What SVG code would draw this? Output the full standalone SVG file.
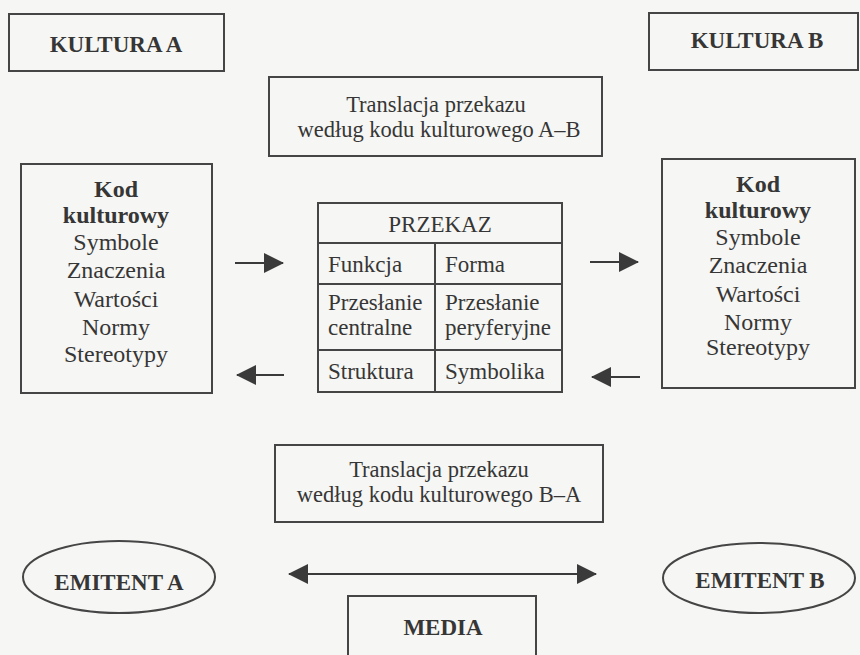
<svg xmlns="http://www.w3.org/2000/svg" width="860" height="655" viewBox="0 0 860 655">
<defs>
<style>
.bg{fill:#f6f6f4}
.box{fill:none;stroke:#454545;stroke-width:2}
text{font-family:'Liberation Serif','Times New Roman',Times,'DejaVu Serif',serif;fill:#363636;text-anchor:middle}
.b{font-weight:bold}
.s22{font-size:22.5px}
.s23{font-size:23px}
.s24{font-size:24px}
.l{text-anchor:start}
.conn{stroke:#3a3a3a;stroke-width:2.2;fill:none}
</style>
<marker id="ah" viewBox="0 0 20 20" refX="19" refY="10" markerWidth="20" markerHeight="20" markerUnits="userSpaceOnUse" orient="auto-start-reverse">
<path d="M0,0 L20,10 L0,20 Z" fill="#3a3a3a"/>
</marker>
</defs>
<rect class="bg" x="0" y="0" width="860" height="655"/>

<g id="kultura-a">
<rect class="box" x="9" y="14" width="215" height="57"/>
<text class="b s23" x="116" y="52">KULTURA A</text>
</g>

<g id="kultura-b">
<rect class="box" x="649" y="13" width="209" height="57"/>
<text class="b s23" x="757" y="48">KULTURA B</text>
</g>

<g id="translacja-ab">
<rect class="box" x="269" y="77" width="333" height="79"/>
<text class="s22" x="436" y="112">Translacja przekazu</text>
<text class="s22" x="439" y="137">według kodu kulturowego A–B</text>
</g>

<g id="kod-a">
<rect class="box" x="21" y="164" width="191" height="229"/>
<text class="b s24" x="116" y="197">Kod</text>
<text class="b s24" x="116" y="223">kulturowy</text>
<text class="s24" x="116" y="250">Symbole</text>
<text class="s24" x="116" y="278">Znaczenia</text>
<text class="s24" x="116" y="307">Wartości</text>
<text class="s24" x="116" y="335">Normy</text>
<text class="s24" x="116" y="362">Stereotypy</text>
</g>

<g id="kod-b">
<rect class="box" x="662" y="159" width="193" height="229"/>
<text class="b s24" x="758" y="192">Kod</text>
<text class="b s24" x="758" y="218">kulturowy</text>
<text class="s24" x="758" y="245">Symbole</text>
<text class="s24" x="758" y="273">Znaczenia</text>
<text class="s24" x="758" y="302">Wartości</text>
<text class="s24" x="758" y="330">Normy</text>
<text class="s24" x="758" y="355">Stereotypy</text>
</g>

<g id="przekaz">
<rect class="box" x="318" y="203" width="244" height="189"/>
<line class="box" x1="318" y1="243" x2="562" y2="243"/>
<line class="box" x1="318" y1="284" x2="562" y2="284"/>
<line class="box" x1="318" y1="350" x2="562" y2="350"/>
<line class="box" x1="435" y1="243" x2="435" y2="392"/>
<text class="s23" x="440" y="232">PRZEKAZ</text>
<text class="s23 l" x="328" y="272">Funkcja</text>
<text class="s23 l" x="445" y="272">Forma</text>
<text class="s23 l" x="328" y="310">Przesłanie</text>
<text class="s23 l" x="328" y="335">centralne</text>
<text class="s23 l" x="445" y="310">Przesłanie</text>
<text class="s23 l" x="445" y="335">peryferyjne</text>
<text class="s23 l" x="328" y="379">Struktura</text>
<text class="s23 l" x="445" y="379">Symbolika</text>
</g>

<g id="translacja-ba">
<rect class="box" x="275" y="445" width="328" height="77"/>
<text class="s22" x="439" y="477">Translacja przekazu</text>
<text class="s22" x="439" y="502">według kodu kulturowego B–A</text>
</g>

<g id="emitent-a">
<ellipse class="box" cx="119" cy="577" rx="96" ry="36"/>
<text class="b s23" x="119" y="590">EMITENT A</text>
</g>

<g id="emitent-b">
<ellipse class="box" cx="759" cy="578" rx="96" ry="35"/>
<text class="b s23" x="760" y="588">EMITENT B</text>
</g>

<g id="media">
<rect class="box" x="348" y="596" width="188" height="70"/>
<text class="b s23" x="443" y="635">MEDIA</text>
</g>

<g id="connectors">
<line class="conn" x1="235" y1="263" x2="283" y2="263" marker-end="url(#ah)"/>
<line class="conn" x1="284" y1="375" x2="237" y2="375" marker-end="url(#ah)"/>
<line class="conn" x1="590" y1="262" x2="638" y2="262" marker-end="url(#ah)"/>
<line class="conn" x1="640" y1="377" x2="592" y2="377" marker-end="url(#ah)"/>
<line class="conn" x1="289" y1="574" x2="596" y2="574" marker-start="url(#ah)" marker-end="url(#ah)"/>
</g>
</svg>
